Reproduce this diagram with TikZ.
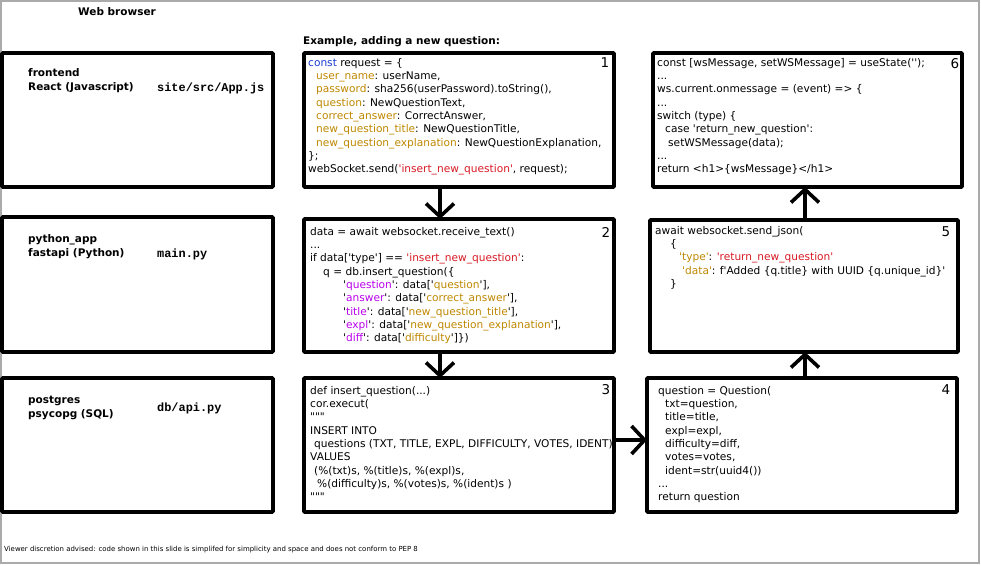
\documentclass[tikz,border=0pt]{standalone}
\usepackage{fontspec}
\setmainfont{DejaVu Sans}[Ligatures=TeXOff]
\newfontfamily\codef{DejaVu Sans}[Ligatures=TeXOff]
\newfontfamily\monof{Liberation Mono}[Ligatures=TeXOff]
\usetikzlibrary{arrows.meta}
\definecolor{kw}{RGB}{25,60,210}
\definecolor{keyc}{RGB}{190,135,0}
\definecolor{strc}{RGB}{215,25,35}
\definecolor{purc}{RGB}{185,0,235}
\definecolor{framec}{RGB}{170,170,170}
\newcommand{\fl}{\rule{0pt}{8.5pt}}
\newcommand{\ind}[1]{\hspace*{#1pt}}
\tikzset{
  boxst/.style={draw=black, line width=3.6pt, rounded corners=1pt, inner sep=0pt, outer sep=0pt, anchor=north west},
  codest/.style={anchor=north west, inner sep=0pt, align=left, font=\codef\fontsize{10.6}{13.35}\selectfont},
  labst/.style={anchor=north west, inner sep=0pt, align=left, font=\bfseries\fontsize{10.5}{14.5}\selectfont},
  monost/.style={anchor=base west, inner sep=0pt, font=\monof\bfseries\fontsize{11.9}{13}\selectfont},
  numst/.style={anchor=center, inner sep=0pt, font=\fontsize{13.5}{14}\selectfont},
  flow/.style={line width=3.6pt, -{Straight Barb[length=13pt,width=28pt]}}
}
\begin{document}
\begin{tikzpicture}[x=1pt,y=-1pt]
\useasboundingbox (0,0) rectangle (981,565);
\draw[framec, line width=1.5pt] (1,1) rectangle (979,563);

% titles
\node[anchor=base west, inner sep=0pt, font=\bfseries\fontsize{10.5}{12}\selectfont] (web) at (78,15) {Web browser};
\node[anchor=base west, inner sep=0pt, font=\bfseries\fontsize{10.5}{12}\selectfont] (ex) at (303,44) {Example, adding a new question:};

% left column boxes
\node[boxst, minimum width=271pt, minimum height=134pt] (l1) at (2,53) {};
\node[boxst, minimum width=271pt, minimum height=135pt] (l2) at (2,217) {};
\node[boxst, minimum width=271pt, minimum height=134pt] (l3) at (2,378) {};
\node[labst] (l1t) at (28,67.3) {\fl frontend\\React (Javascript)};
\node[labst] (l2t) at (28,233.3) {\fl python\_app\\fastapi (Python)};
\node[labst] (l3t) at (28,394.3) {\fl postgres\\psycopg (SQL)};
\node[monost] (l1m) at (157,91.5) {site/src/App.js};
\node[monost] (l2m) at (157,257.5) {main.py};
\node[monost] (l3m) at (157,411.5) {db/api.py};

% code boxes
\node[boxst, minimum width=310pt, minimum height=134pt] (b1) at (304,53) {};
\node[boxst, minimum width=310pt, minimum height=133pt] (b2) at (304,219) {};
\node[boxst, minimum width=310pt, minimum height=134pt] (b3) at (304,378) {};
\node[boxst, minimum width=310pt, minimum height=134pt] (b4) at (647,378) {};
\node[boxst, minimum width=308pt, minimum height=132pt] (b5) at (650,220) {};
\node[boxst, minimum width=309pt, minimum height=134pt] (b6) at (653,53) {};

\node[codest] (c1) at (308,57.3) {\fl{\color{kw}const} request = \{\\
\ind{8}{\color{keyc}user\_name}: userName,\\
\ind{8}{\color{keyc}password}: sha256(userPassword).toString(),\\
\ind{8}{\color{keyc}question}: NewQuestionText,\\
\ind{8}{\color{keyc}correct\_answer}: CorrectAnswer,\\
\ind{8}{\color{keyc}new\_question\_title}: NewQuestionTitle,\\
\ind{8}{\color{keyc}new\_question\_explanation}: NewQuestionExplanation,\\
\};\\
webSocket.send({\color{strc}'insert\_new\_question'}, request);};

\node[codest] (c2) at (310,226.3) {\fl data = await websocket.receive\_text()\\
...\\
if data['type'] == {\color{strc}'insert\_new\_question'}:\\
\ind{13}q = db.insert\_question(\{\\
\ind{33}'{\color{purc}question}': data['{\color{keyc}question}'],\\
\ind{33}'{\color{purc}answer}': data['{\color{keyc}correct\_answer}'],\\
\ind{33}'{\color{purc}title}': data['{\color{keyc}new\_question\_title}'],\\
\ind{33}'{\color{purc}expl}': data['{\color{keyc}new\_question\_explanation}'],\\
\ind{33}'{\color{purc}diff}': data['{\color{keyc}difficulty}']\})};

\node[codest] (c3) at (310,385.3) {\fl def insert\_question(...)\\
cor.execut(\\
"""\\
INSERT INTO\\
\ind{4}questions (TXT, TITLE, EXPL, DIFFICULTY, VOTES, IDENT)\\
VALUES\\
\ind{4}(\%(txt)s, \%(title)s, \%(expl)s,\\
\ind{7}\%(difficulty)s, \%(votes)s, \%(ident)s )\\
"""};

\node[codest] (c4) at (658,385.3) {\fl question = Question(\\
\ind{7}txt=question,\\
\ind{7}title=title,\\
\ind{7}expl=expl,\\
\ind{7}difficulty=diff,\\
\ind{7}votes=votes,\\
\ind{7}ident=str(uuid4())\\
...\\
return question};

\node[codest] (c5) at (655,225.3) {\fl await websocket.send\_json(\\
\ind{15}\{\\
\ind{24}{\color{keyc}'type'}: {\color{strc}'return\_new\_question'}\\
\ind{27}{\color{keyc}'data'}: f'Added \{q.title\} with UUID \{q.unique\_id\}'\\
\ind{15}\}};

\node[codest] (c6) at (657,57.3) {\fl const [wsMessage, setWSMessage] = useState('');\\
...\\
ws.current.onmessage = (event) => \{\\
...\\
switch (type) \{\\
\ind{8}case 'return\_new\_question':\\
\ind{11}setWSMessage(data);\\
...\\
return <h1>\{wsMessage\}</h1>};

% redraw frames on top of overflowing text
\foreach \n in {b1,b2,b3,b4,b5,b6} {
  \draw[line width=3.6pt, rounded corners=1pt] (\n.north west) rectangle (\n.south east);
}

% step numbers
\node[numst] (n1) at (605,63) {1};
\node[numst] (n2) at (606,232) {2};
\node[numst] (n3) at (606,390) {3};
\node[numst] (n4) at (946,390) {4};
\node[numst] (n5) at (946,232) {5};
\node[numst] (n6) at (955,64) {6};

% connectors
\coordinate (colA) at (440,0);
\coordinate (colB) at (805,0);
\coordinate (rowH) at (0,440);
\draw[flow] (b1.south -| colA) -- (b2.north -| colA);
\draw[flow] (b2.south -| colA) -- (b3.north -| colA);
\draw[flow] (b3.east |- rowH) -- (b4.west |- rowH);
\draw[flow] (b4.north -| colB) -- (b5.south -| colB);
\draw[flow] (b5.north -| colB) -- (b6.south -| colB);

% footer
\node[anchor=base west, inner sep=0pt, font=\fontsize{6.95}{8}\selectfont] (foot) at (4,551) {Viewer discretion advised: code shown in this slide is simplifed for simplicity and space and does not conform to PEP 8};
\end{tikzpicture}
\end{document}
